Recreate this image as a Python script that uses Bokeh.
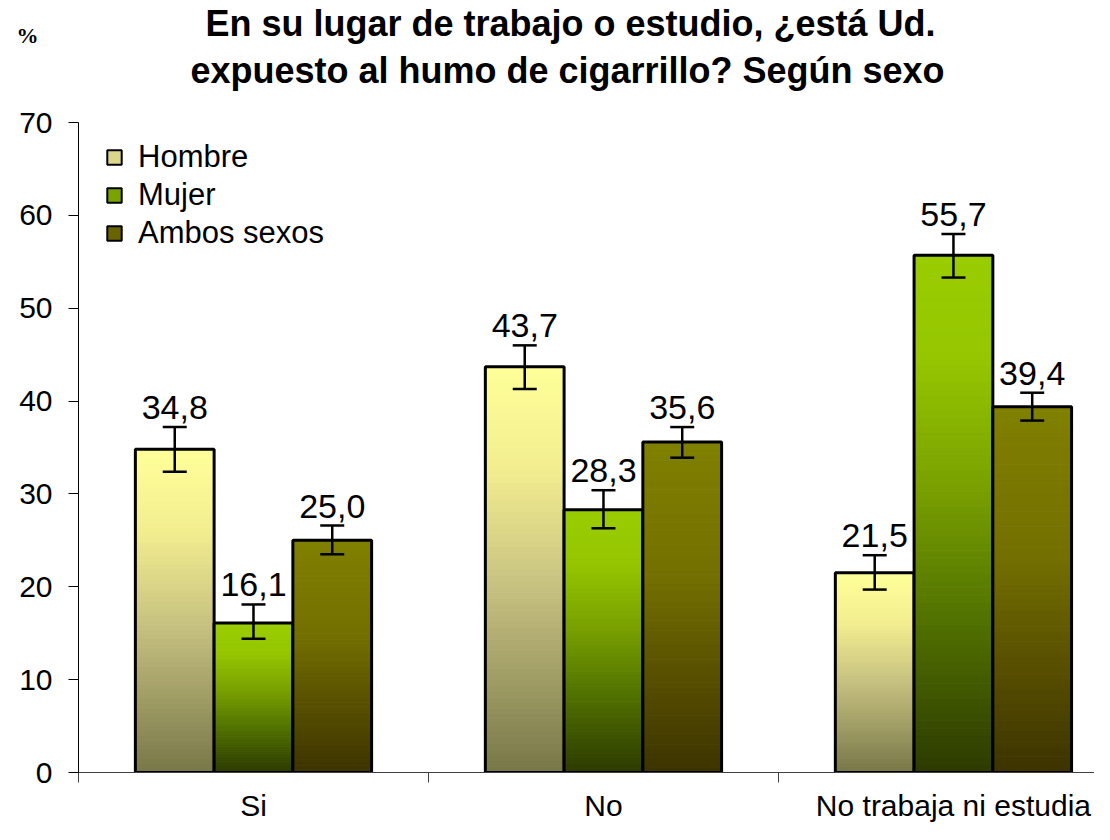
from bokeh.plotting import figure
from bokeh.layouts import column
from bokeh.models import (ColumnDataSource, Range1d, FixedTicker, Whisker, TeeHead,
                          Legend, LegendItem)
from bokeh.core.properties import value
from bokeh.embed import file_html
from bokeh.resources import INLINE

# ---------------- data ----------------
categories = ["Si", "No", "No trabaja ni estudia"]
series = ["Hombre", "Mujer", "Ambos sexos"]
hombre = [34.8, 43.7, 21.5]
mujer = [16.1, 28.3, 55.7]
ambos = [25.0, 35.6, 39.4]
hombre_lo = [32.4, 41.3, 19.7]
hombre_hi = [37.2, 46.0, 23.4]
mujer_lo = [14.4, 26.3, 53.3]
mujer_hi = [18.1, 30.4, 58.0]
ambos_lo = [23.5, 33.9, 37.9]
ambos_hi = [26.6, 37.2, 40.9]
y_ticks = [0, 10, 20, 30, 40, 50, 60, 70]

title_lines = ["En su lugar de trabajo o estudio, ¿está Ud.",
               "expuesto al humo de cigarrillo? Según sexo"]
unit_label = "%"

# ---------------- style ----------------
FONT = "Liberation Sans"
stops = {
    "Hombre": [(0.0, "#777748"), (0.45, "#C6C080"), (0.75, "#F2EE90"), (1.0, "#FFFF99")],
    "Mujer": [(0.0, "#2D3A00"), (0.3, "#527200"), (0.55, "#79A000"), (0.8, "#95C600"), (1.0, "#9ACD00")],
    "Ambos sexos": [(0.0, "#3C3300"), (0.3, "#595000"), (0.6, "#747000"), (1.0, "#808000")],
}
legend_fill = {"Hombre": "#DCD68A", "Mujer": "#7AA300", "Ambos sexos": "#6A6400"}
BAR_W = 0.225
offsets = [-BAR_W, 0.0, BAR_W]
N = 70
W = 1094
HEAD_H = 104


def hex2rgb(h):
    h = h.lstrip("#")
    return tuple(int(h[i:i + 2], 16) for i in (0, 2, 4))


def interp(st, t):
    for (t0, c0), (t1, c1) in zip(st[:-1], st[1:]):
        if t <= t1:
            f = (t - t0) / (t1 - t0) if t1 > t0 else 0
            a, b = hex2rgb(c0), hex2rgb(c1)
            return "#%02x%02x%02x" % tuple(int(round(a[i] + (b[i] - a[i]) * f)) for i in range(3))
    return st[-1][1]


# ---------------- header (title + unit) ----------------
head = figure(width=W, height=HEAD_H, x_range=Range1d(0, W), y_range=Range1d(HEAD_H, 0),
              output_backend="svg", toolbar_location=None, min_border=0,
              x_axis_location=None, y_axis_location=None)
head.grid.grid_line_color = None
head.outline_line_color = None
head.text(x=[570, 567], y=[43, 90], text=title_lines, text_align="center",
          text_baseline="bottom", text_font=value(FONT), text_font_style="bold",
          text_font_size="36px", text_color="black")
head.text(x=[16], y=[47], text=[unit_label], text_align="left", text_baseline="bottom",
          text_font=value("Liberation Serif"), text_font_style="bold",
          text_font_size="22px", text_color="black")

# ---------------- main chart ----------------
p = figure(width=W, height=824 - HEAD_H, x_range=Range1d(0, 2.903), y_range=Range1d(0, 70),
           output_backend="svg", toolbar_location=None, title=None,
           min_border_left=78, min_border_right=0, min_border_top=18, min_border_bottom=0)
p.outline_line_color = None
p.xgrid.grid_line_color = None
p.ygrid.grid_line_color = None
p.background_fill_color = "white"

for fig in (head, p):
    try:
        fig.frame_align = False
    except Exception:
        pass

data = {"Hombre": (hombre, hombre_lo, hombre_hi),
        "Mujer": (mujer, mujer_lo, mujer_hi),
        "Ambos sexos": (ambos, ambos_lo, ambos_hi)}

legend_items = []
for si, name in enumerate(series):
    vals, lo, hi = data[name]
    xs = [i + 0.5 + offsets[si] for i in range(len(categories))]
    sx, sb, st_, sc = [], [], [], []
    for x, v in zip(xs, vals):
        for k in range(N):
            sx.append(x)
            sb.append(v * k / N)
            st_.append(v * (k + 1) / N)
            sc.append(interp(stops[name], (k + 0.5) / N))
    p.vbar(x="x", bottom="b", top="t", width=BAR_W, fill_color="c", line_color="c", line_width=1,
           source=ColumnDataSource(dict(x=sx, b=sb, t=st_, c=sc)))
    p.vbar(x=xs, top=vals, bottom=0, width=BAR_W, fill_alpha=0, line_color="black", line_width=3)
    esrc = ColumnDataSource(dict(x=xs, lo=lo, hi=hi, v=vals,
                                 lab=[("%.1f" % v).replace(".", ",") for v in vals]))
    w = Whisker(base="x", lower="lo", upper="hi", source=esrc, line_color="black", line_width=2.5,
                upper_head=TeeHead(size=24, line_width=2.5, line_color="black"),
                lower_head=TeeHead(size=24, line_width=2.5, line_color="black"),
                level="overlay")
    p.add_layout(w)
    p.text(x="x", y="hi", text="lab", source=esrc, text_align="center", text_baseline="bottom",
           y_offset=-8, text_font=value(FONT), text_font_size="34px", text_color="black")
    dummy = p.vbar(x=xs[:1], top=[0], bottom=[0], width=BAR_W, fill_color=legend_fill[name],
                   line_color="black", line_width=2)
    legend_items.append(LegendItem(label=name, renderers=[dummy]))

legend = Legend(items=legend_items, location=(27, 521), margin=0, padding=0, spacing=2,
                glyph_width=18, glyph_height=18, label_standoff=15, label_height=36,
                label_text_font=FONT, label_text_font_size="31px", label_text_color="black",
                border_line_color=None, background_fill_alpha=0)
p.add_layout(legend)

# axes
p.yaxis.ticker = FixedTicker(ticks=y_ticks)
p.yaxis.axis_line_color = "black"
p.yaxis.major_tick_out = 10
p.yaxis.major_tick_in = 0
p.yaxis.minor_tick_line_color = None
p.yaxis.major_label_standoff = 16
p.yaxis.major_label_text_font = FONT
p.yaxis.major_label_text_font_size = "30px"
p.yaxis.major_label_text_color = "black"

p.xaxis.ticker = FixedTicker(ticks=[0.5, 1.5, 2.5], minor_ticks=[0, 1, 2, 3])
p.xaxis.major_label_overrides = {0.5: categories[0], 1.5: categories[1], 2.5: categories[2]}
p.xaxis.axis_line_color = "#404040"
p.xaxis.major_tick_line_color = None
p.xaxis.major_tick_out = 0
p.xaxis.major_tick_in = 0
p.xaxis.minor_tick_out = 10
p.xaxis.minor_tick_in = 0
p.xaxis.minor_tick_line_color = "#404040"
p.xaxis.major_label_standoff = 6
p.xaxis.major_label_text_font = FONT
p.xaxis.major_label_text_font_size = "30px"
p.xaxis.major_label_text_color = "black"

layout = column(head, p, spacing=0)
open("out.html", "w").write(file_html(layout, INLINE))
